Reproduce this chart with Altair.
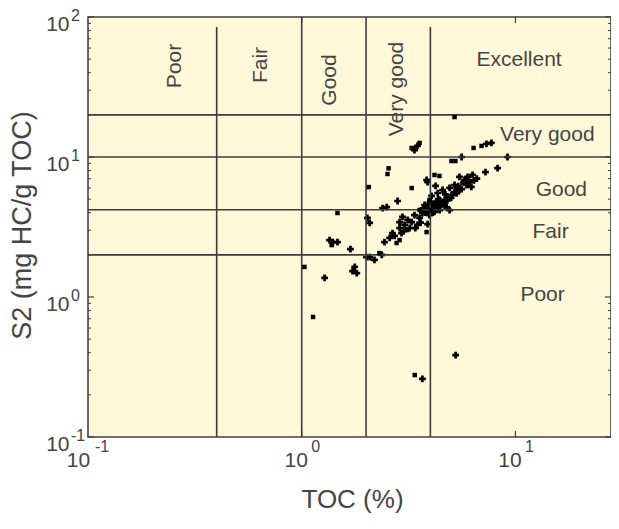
import altair as alt
import pandas as pd

# ---------------- data ----------------
plus_toc = [1.28, 1.35, 1.40, 1.47, 1.69, 1.77, 1.81, 1.73, 2.03, 2.08, 2.08, 2.19,
            2.81, 2.50, 2.39, 2.96, 3.48, 3.37, 7.32, 7.72, 5.60, 9.18, 8.25, 7.24,
            3.84, 5.47, 3.88, 6.10, 6.22, 5.90, 5.36, 5.19, 4.42, 3.84, 4.76, 4.92,
            3.27, 3.48, 3.03, 3.20, 2.93, 2.66, 2.44, 3.67, 5.25, 2.37, 2.01, 3.76,
            4.05, 4.33, 4.56, 4.66, 4.92, 5.02, 5.47, 5.78, 5.97, 6.30, 4.42, 4.18,
            3.96, 3.67, 3.37, 3.56, 3.13, 2.87, 2.72, 2.58, 2.87, 4.23, 5.19, 4.66,
            3.88, 3.78, 4.50, 4.30, 4.00, 4.15, 4.30, 3.90,
            3.90, 4.10, 4.25, 4.40, 4.60, 4.80, 5.00, 5.30, 5.60, 6.00, 6.40, 4.00,
            3.70, 4.35, 4.70, 5.40, 6.60, 3.60, 3.40, 3.00]
plus_s2 = [1.37, 2.55, 2.47, 2.47, 2.20, 1.64, 1.48, 1.53, 3.67, 3.38, 1.93, 1.84,
           4.85, 4.39, 4.32, 3.73, 12.0, 11.2, 12.4, 12.6, 10.0, 10.0, 8.33, 7.81,
           6.85, 7.20, 6.63, 6.63, 6.11, 6.31, 6.01, 5.62, 4.93, 4.39, 4.39, 4.18,
           3.43, 3.27, 3.27, 3.11, 2.86, 2.86, 2.47, 0.26, 0.385, 2.00, 1.93, 4.54,
           5.27, 5.53, 5.81, 4.93, 6.01, 5.35, 5.81, 6.85, 7.20, 7.44, 4.18, 4.05,
           3.85, 3.98, 3.85, 3.67, 3.55, 3.11, 2.73, 2.64, 3.43, 6.21, 6.31, 4.54,
           3.32, 4.00, 4.60, 4.80, 4.30, 4.45, 4.25, 4.60,
           4.20, 4.00, 4.60, 4.40, 4.70, 4.90, 5.10, 5.50, 5.90, 6.40, 6.80, 4.80,
           4.30, 5.00, 5.40, 6.20, 7.00, 3.40, 3.10, 2.95]

square_toc = [1.13, 3.38, 6.37, 5.02, 5.24, 5.19, 3.27, 2.06, 3.84, 4.41, 1.03, 2.55,
              2.52, 3.27, 3.56, 4.18, 3.96, 4.27, 4.10, 2.87, 2.78, 1.47, 1.38, 2.31,
              4.76, 5.65, 6.94, 3.56, 4.05, 3.10]
square_s2 = [0.72, 0.277, 11.6, 9.36, 9.36, 19.3, 6.00, 6.10, 2.91, 7.32, 1.64, 8.30,
             7.56, 11.6, 12.6, 7.44, 4.93, 4.39, 4.69, 2.55, 2.43, 3.98, 2.35, 2.06,
             5.18, 6.52, 12.0, 4.18, 4.18, 3.01]

# axis ranges
toc_range = [0.1, 28]
s2_range = [0.1, 100]

# zone boundaries
toc_limits = [0.4, 1, 2, 4]
toc_limit_top = [85, 100, 100, 85]
s2_limits = [2, 4.2, 10, 20]

# zone labels
top_labels = ["Poor", "Fair", "Good", "Very good"]
top_label_toc = [0.255, 0.643, 1.35, 2.78]
top_label_s2 = [44.7, 45.4, 35.5, 30.6]

right_labels = ["Excellent", "Very good", "Good", "Fair", "Poor"]
right_label_toc = [10.4, 14.1, 16.4, 14.6, 13.4]
right_label_s2 = [49.3, 14.4, 5.81, 2.91, 1.03]

# axis ticks
x_ticks = [0.1, 1, 10]
x_exps = ["-1", "0", "1"]
y_ticks = [0.1, 1, 10, 100]
y_exps = ["-1", "0", "1", "2"]
y_minor = [0.2, 0.3, 0.4, 0.5, 0.6, 0.7, 0.8, 0.9,
           2, 3, 4, 5, 6, 7, 8, 9,
           20, 30, 40, 50, 60, 70, 80, 90]
x_major_inner = [1, 10]

FONT = "Liberation Sans"
TXT = "#444444"
LINE = "#3c3c3c"
W, H = 523, 420

xs = alt.Scale(type="log", domain=toc_range, nice=False)
ys = alt.Scale(type="log", domain=s2_range, nice=False)

df_plus = pd.DataFrame({"toc": plus_toc, "s2": plus_s2})
df_sq = pd.DataFrame({"toc": square_toc, "s2": square_s2})
df_vl = pd.DataFrame({"toc": toc_limits, "top": toc_limit_top,
                      "bottom": [s2_range[0]] * len(toc_limits)})
df_hl = pd.DataFrame({"s2": s2_limits, "x0": [toc_range[0]] * len(s2_limits),
                      "x1": [toc_range[1]] * len(s2_limits)})
df_top = pd.DataFrame({"toc": top_label_toc, "s2": top_label_s2, "t": top_labels})
df_right = pd.DataFrame({"toc": right_label_toc, "s2": right_label_s2, "t": right_labels})
df_xe = pd.DataFrame({"v": x_ticks, "e": x_exps, "base": [s2_range[0]] * len(x_ticks)})
df_ye = pd.DataFrame({"v": y_ticks, "e": y_exps, "base": [toc_range[0]] * len(y_ticks)})
df_ymaj = pd.DataFrame({"v": y_ticks})
df_ymin = pd.DataFrame({"v": y_minor})
df_xmaj = pd.DataFrame({"v": x_major_inner})

x_axis = alt.Axis(
    values=x_ticks, labelExpr="'10'", ticks=False, grid=False, domain=False,
    labelFont=FONT, labelFontSize=21, labelColor=TXT, labelBaseline="middle",
    labelAlign="center", labelPadding=23,
    labelOffset={"condition": {"test": "datum.value < 0.5", "value": -10}, "value": -6},
    labelFlush=False, labelOverlap=False,
    title="TOC (%)", titleFont=FONT, titleFontSize=26, titleFontWeight="normal",
    titleColor=TXT, titleX=264, titleY=62, titleAlign="center", titleBaseline="middle",
)
y_axis = alt.Axis(
    values=y_ticks, labelExpr="'10'", ticks=False, grid=False, domain=False,
    labelFont=FONT, labelFontSize=21, labelColor=TXT, labelBaseline="middle",
    labelAlign="right", labelPadding=19, labelOffset=7,
    labelFlush=False, labelOverlap=False,
    title="S2 (mg HC/g TOC)", titleFont=FONT, titleFontSize=27, titleFontWeight="normal",
    titleColor=TXT, titleAngle=270, titleX=-66, titleY=208, titleAlign="center",
    titleBaseline="middle",
)


def X(f):
    return alt.X(f, type="quantitative", scale=xs, axis=x_axis)


def Y(f):
    return alt.Y(f, type="quantitative", scale=ys, axis=y_axis)


vlines = alt.Chart(df_vl).mark_rule(color=LINE, strokeWidth=1.6).encode(
    x=X("toc"), y=Y("bottom"), y2="top:Q")
hlines = alt.Chart(df_hl).mark_rule(color=LINE, strokeWidth=1.6).encode(
    y=Y("s2"), x=X("x0"), x2="x1:Q")

# inward ticks
ymaj_l = alt.Chart(df_ymaj).mark_rule(color=LINE, strokeWidth=1.2).encode(
    y=Y("v"), x=alt.value(0), x2=alt.value(6))
ymaj_r = alt.Chart(df_ymaj).mark_rule(color=LINE, strokeWidth=1.2).encode(
    y=Y("v"), x=alt.value(W), x2=alt.value(W - 6))
ymin_l = alt.Chart(df_ymin).mark_rule(color=LINE, strokeWidth=1).encode(
    y=Y("v"), x=alt.value(0), x2=alt.value(3))
ymin_r = alt.Chart(df_ymin).mark_rule(color=LINE, strokeWidth=1).encode(
    y=Y("v"), x=alt.value(W), x2=alt.value(W - 3))
xmaj_b = alt.Chart(df_xmaj).mark_rule(color=LINE, strokeWidth=1.2).encode(
    x=X("v"), y=alt.value(H), y2=alt.value(H - 6))
xmaj_t = alt.Chart(df_xmaj).mark_rule(color=LINE, strokeWidth=1.2).encode(
    x=X("v"), y=alt.value(0), y2=alt.value(6))

squares = alt.Chart(df_sq).mark_point(shape="square", filled=True, size=20,
                                      color="black", opacity=1).encode(
    x=X("toc"), y=Y("s2"))
pluses = alt.Chart(df_plus).mark_point(shape="cross", filled=True, size=46,
                                       color="black", opacity=1).encode(
    x=X("toc"), y=Y("s2"))

top_text = alt.Chart(df_top).mark_text(angle=270, align="center", baseline="middle",
                                       fontSize=21, font=FONT, color=TXT).encode(
    x=X("toc"), y=Y("s2"), text="t:N")
right_text = alt.Chart(df_right).mark_text(align="center", baseline="middle",
                                           fontSize=21, font=FONT, color=TXT).encode(
    x=X("toc"), y=Y("s2"), text="t:N")

x_exp = alt.Chart(df_xe).mark_text(align="center", baseline="middle", dx=14, dy=10,
                                   fontSize=16, font=FONT, color=TXT).encode(
    x=X("v"), y=Y("base"), text="e:N")
y_exp = alt.Chart(df_ye).mark_text(align="left", baseline="middle", dx=-17, dy=-1,
                                   fontSize=16, font=FONT, color=TXT).encode(
    x=X("base"), y=Y("v"), text="e:N")

chart = alt.layer(
    pluses, vlines, hlines, ymaj_l, ymaj_r, ymin_l, ymin_r, xmaj_b, xmaj_t,
    squares, top_text, right_text, x_exp, y_exp,
).properties(
    width=W, height=H,
    padding={"left": 80, "top": 9, "right": 0, "bottom": 80},
    autosize=alt.AutoSizeParams(type="none"),
    background="white",
).configure(font=FONT).configure_view(
    fill="#FFF9DA", stroke="#404040", strokeWidth=1.6,
)

chart.save("out.html", embed_options={"renderer": "svg", "actions": False})
